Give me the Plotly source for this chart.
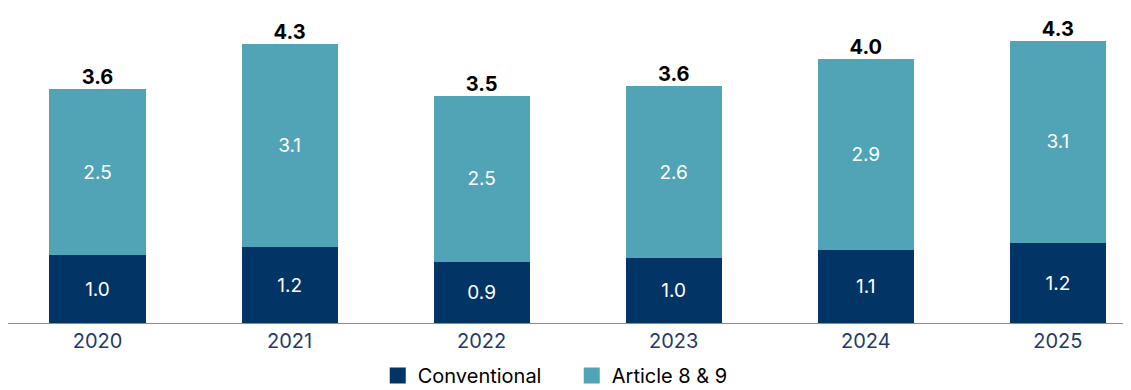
import plotly.graph_objects as go

years = ["2020", "2021", "2022", "2023", "2024", "2025"]
conventional = [1.04, 1.16, 0.94, 0.99, 1.11, 1.22]
article_8_9 = [2.54, 3.11, 2.53, 2.64, 2.93, 3.10]
totals = [round(c + a, 2) for c, a in zip(conventional, article_8_9)]

NAVY = "#033466"
TEAL = "#50a4b6"
FONT = "Inter"

fig = go.Figure()
fig.add_trace(go.Bar(
    x=years, y=conventional, name="Conventional", showlegend=False,
    marker=dict(color=NAVY, line=dict(width=0)),
    texttemplate="%{y:.1f}", textposition="inside", insidetextanchor="middle",
    textfont=dict(color="white", size=19, family=FONT),
    width=0.5,
))
fig.add_trace(go.Bar(
    x=years, y=article_8_9, name="Article 8 & 9", showlegend=False,
    marker=dict(color=TEAL, line=dict(width=0)),
    texttemplate="%{y:.1f}", textposition="inside", insidetextanchor="middle",
    textfont=dict(color="white", size=19, family=FONT),
    width=0.5,
))
fig.add_trace(go.Scatter(
    x=years, y=totals, mode="text", showlegend=False,
    text=[f"<b>{t:.1f}</b>" for t in totals], textposition="top center",
    textfont=dict(color="black", size=20, family=FONT),
    cliponaxis=False, hoverinfo="skip",
))
# legend keys
for nm, col in [("Conventional", NAVY), ("Article 8 & 9", TEAL)]:
    fig.add_trace(go.Scatter(
        x=[None], y=[None], mode="markers", name=nm,
        marker=dict(symbol="square", size=17, color=col),
    ))

# the page body has an 8px margin, so the figure is 8px smaller and offset
fig.update_layout(
    width=1123, height=382,
    barmode="stack",
    margin=dict(l=0, r=0, t=2, b=67, autoexpand=False),
    paper_bgcolor="white", plot_bgcolor="white",
    showlegend=True,
    legend=dict(
        orientation="h", x=0.502, xanchor="center", y=-0.168, yanchor="middle",
        font=dict(color="black", size=20, family=FONT),
        traceorder="normal", itemclick=False, entrywidth=149,
    ),
    xaxis=dict(
        type="category", range=[-0.466, 5.381],
        showline=True, linecolor="#8c8c8c", linewidth=1,
        ticks="", showgrid=False, zeroline=False,
        tickfont=dict(color="#1d3c6e", size=20, family=FONT),
    ),
    yaxis=dict(
        range=[0, 4.79], visible=False, showgrid=False, zeroline=False,
    ),
)

fig.write_html("out.html")
